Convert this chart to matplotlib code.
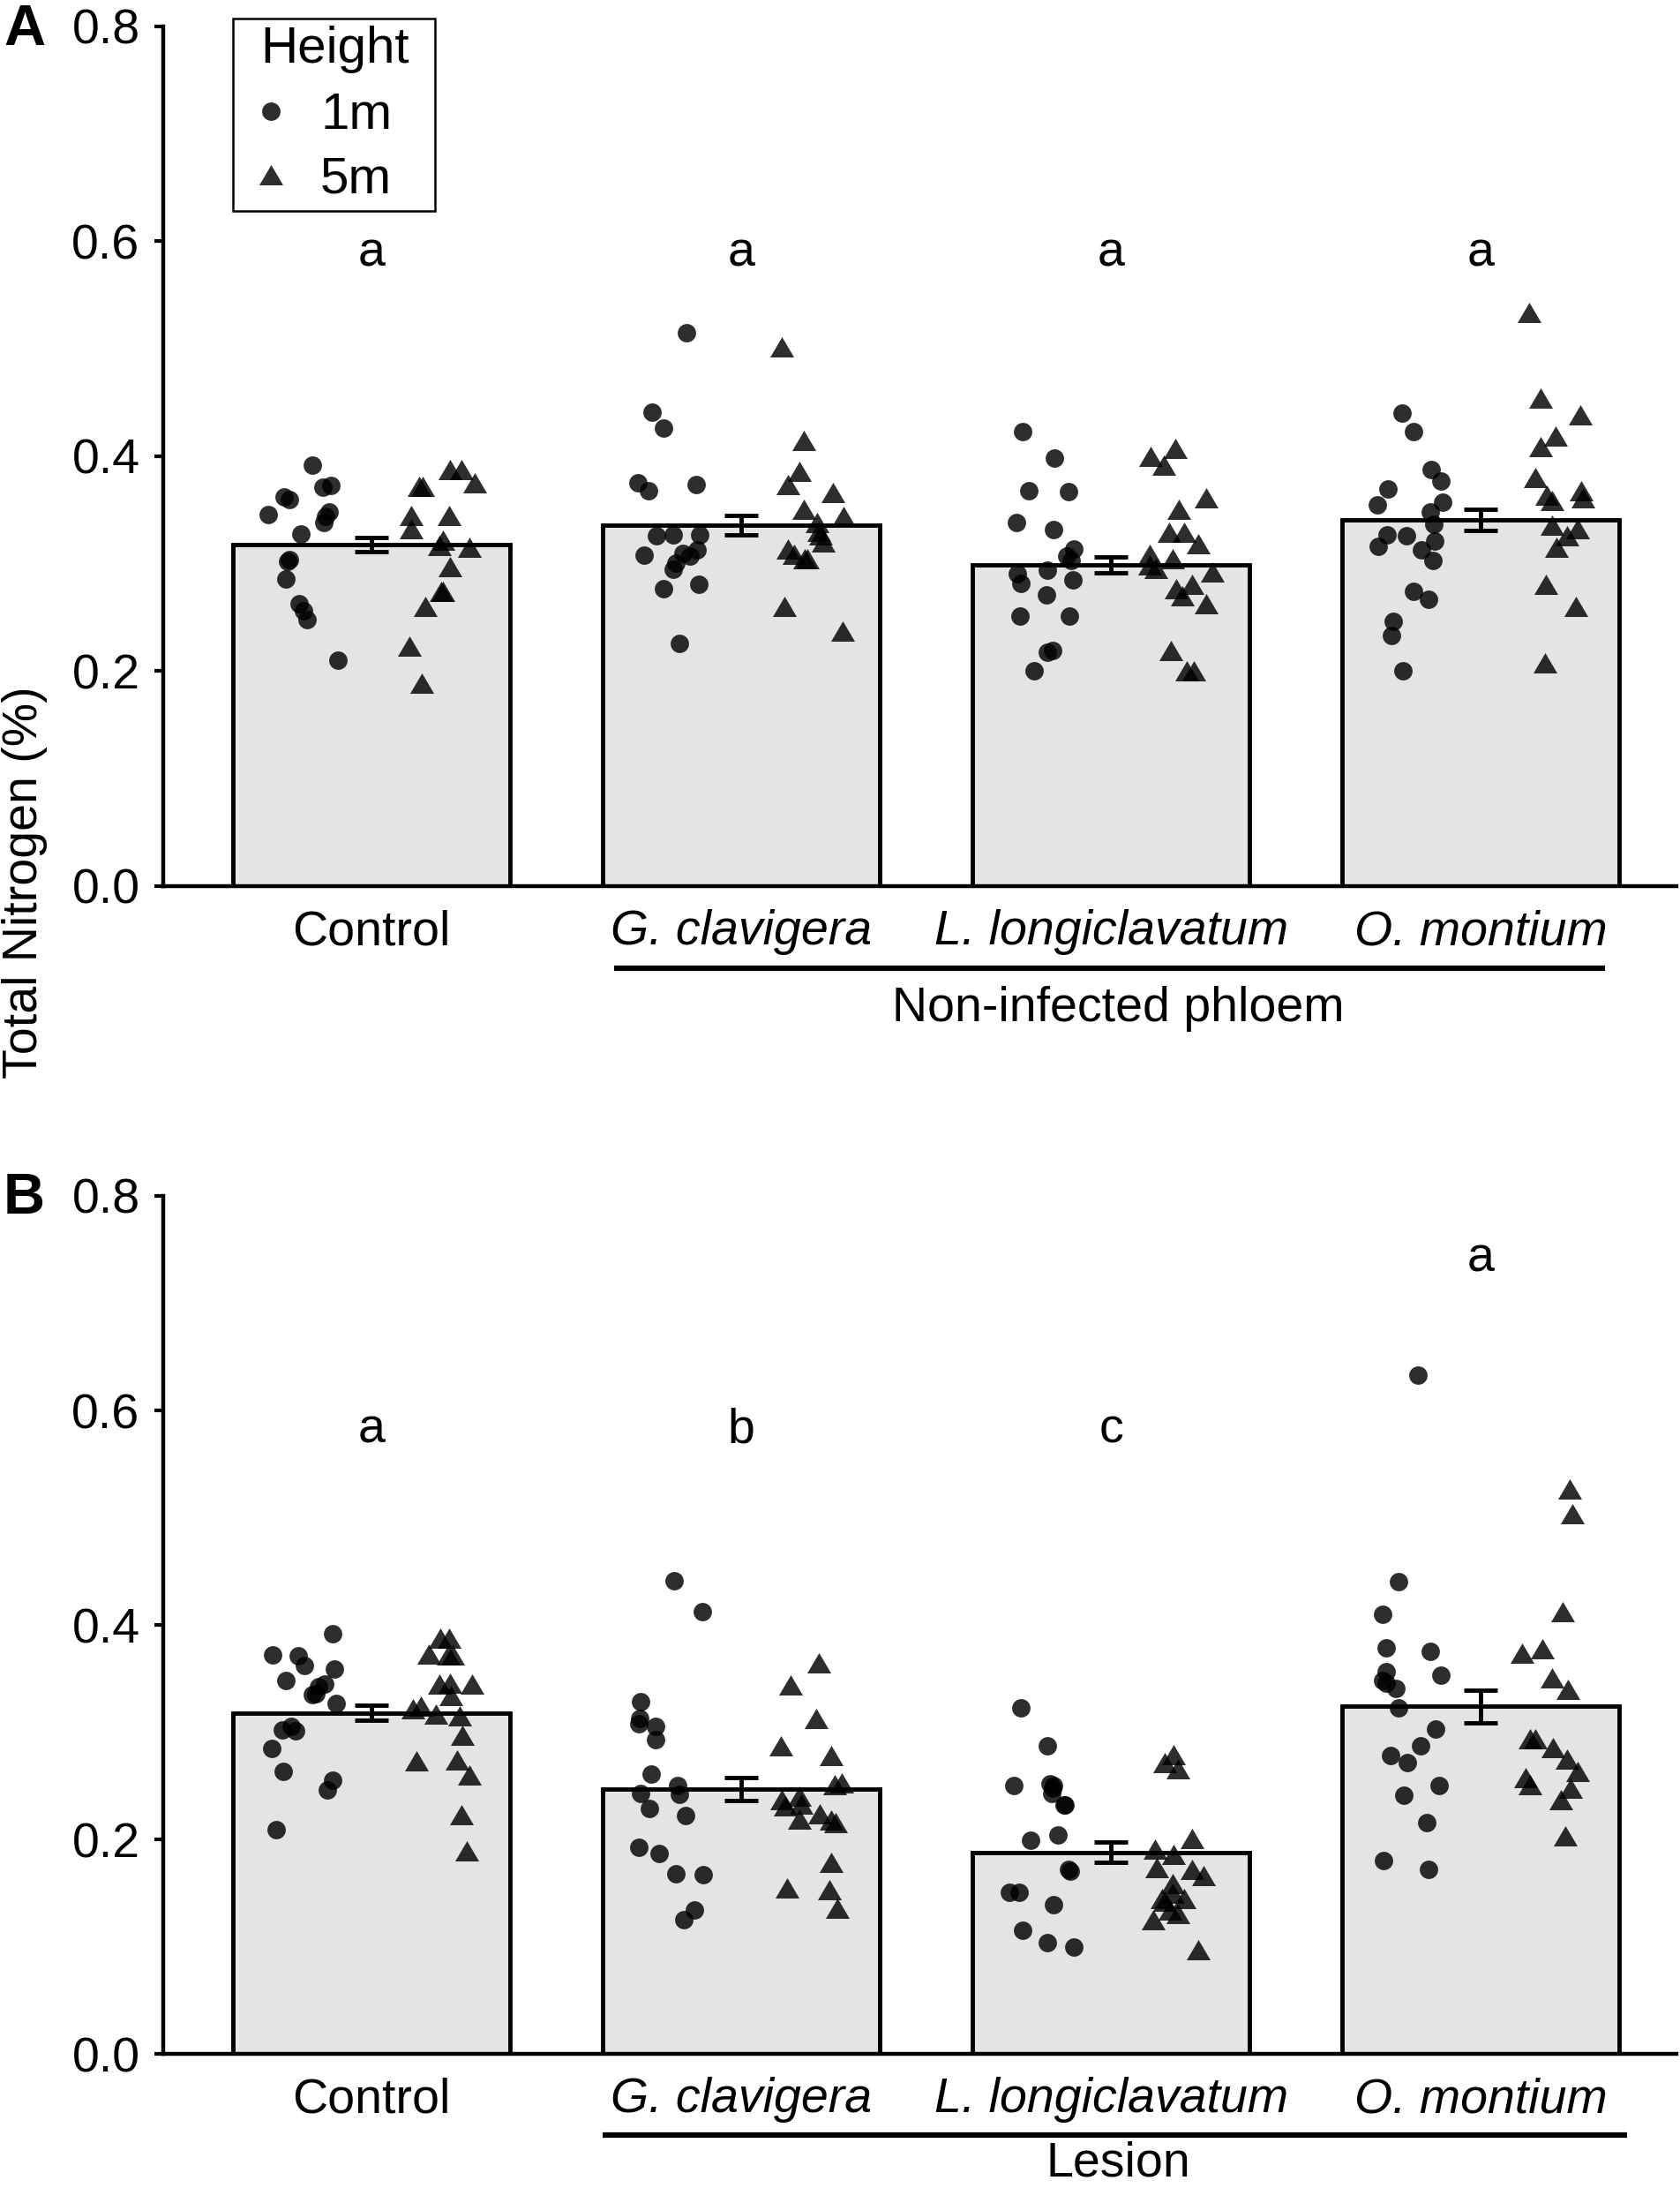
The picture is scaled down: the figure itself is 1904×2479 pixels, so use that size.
import numpy as np
import matplotlib
matplotlib.use("Agg")
import matplotlib.pyplot as plt
from matplotlib.lines import Line2D
from matplotlib.patches import Rectangle

plt.rcParams['font.family'] = ['Liberation Sans', 'DejaVu Sans']

# categories and labels
categories = ['Control', 'G. clavigera', 'L. longiclavatum', 'O. montium']
italic = [False, True, True, True]

# panel A: non-infected phloem, total N (%) per tree
ctrl_A_1m = [0.392, 0.373, 0.371, 0.362, 0.360, 0.348, 0.346, 0.344, 0.338, 0.328, 0.304, 0.302, 0.286, 0.263, 0.256, 0.248, 0.210]
ctrl_A_5m = [0.388, 0.388, 0.375, 0.372, 0.372, 0.345, 0.345, 0.333, 0.322, 0.317, 0.315, 0.297, 0.274, 0.274, 0.260, 0.223, 0.189]
gc_A_1m = [0.515, 0.441, 0.426, 0.375, 0.374, 0.368, 0.326, 0.327, 0.327, 0.313, 0.310, 0.307, 0.308, 0.301, 0.295, 0.281, 0.277, 0.226]
gc_A_5m = [0.502, 0.415, 0.386, 0.374, 0.366, 0.351, 0.344, 0.338, 0.330, 0.327, 0.320, 0.314, 0.305, 0.309, 0.305, 0.260, 0.237]
ll_A_1m = [0.423, 0.398, 0.368, 0.367, 0.332, 0.338, 0.307, 0.314, 0.303, 0.294, 0.291, 0.282, 0.285, 0.271, 0.251, 0.251, 0.219, 0.218, 0.200]
ll_A_5m = [0.407, 0.392, 0.400, 0.361, 0.351, 0.329, 0.329, 0.319, 0.309, 0.305, 0.299, 0.296, 0.292, 0.281, 0.277, 0.270, 0.263, 0.219, 0.200, 0.200]
om_A_1m = [0.440, 0.423, 0.388, 0.377, 0.370, 0.357, 0.355, 0.348, 0.337, 0.327, 0.326, 0.321, 0.316, 0.313, 0.303, 0.274, 0.267, 0.246, 0.233, 0.200]
om_A_5m = [0.534, 0.454, 0.439, 0.419, 0.409, 0.380, 0.368, 0.364, 0.361, 0.359, 0.336, 0.333, 0.326, 0.315, 0.281, 0.260, 0.208]
mean_A = [0.318, 0.336, 0.299, 0.341]
se_A = [0.0065, 0.009, 0.0076, 0.0097]
letters_A = ['a', 'a', 'a', 'a']
letter_y_A = [0.577, 0.577, 0.577, 0.577]

# panel B: lesion
ctrl_B_1m = [0.392, 0.372, 0.371, 0.362, 0.359, 0.348, 0.345, 0.336, 0.342, 0.335, 0.327, 0.305, 0.301, 0.302, 0.285, 0.263, 0.255, 0.246, 0.209]
ctrl_B_5m = [0.388, 0.388, 0.372, 0.372, 0.373, 0.345, 0.345, 0.346, 0.334, 0.324, 0.322, 0.317, 0.315, 0.297, 0.274, 0.273, 0.260, 0.223, 0.189]
gc_B_1m = [0.441, 0.412, 0.328, 0.313, 0.308, 0.305, 0.293, 0.261, 0.250, 0.243, 0.242, 0.229, 0.222, 0.193, 0.187, 0.167, 0.168, 0.134, 0.125]
gc_B_5m = [0.365, 0.344, 0.313, 0.287, 0.278, 0.253, 0.251, 0.237, 0.233, 0.240, 0.231, 0.224, 0.218, 0.219, 0.216, 0.179, 0.155, 0.153, 0.136]
ll_B_1m = [0.323, 0.287, 0.248, 0.252, 0.250, 0.250, 0.243, 0.232, 0.232, 0.199, 0.204, 0.172, 0.170, 0.151, 0.151, 0.139, 0.115, 0.104, 0.100]
ll_B_5m = [0.279, 0.272, 0.266, 0.201, 0.191, 0.186, 0.174, 0.172, 0.166, 0.159, 0.150, 0.145, 0.145, 0.142, 0.134, 0.131, 0.125, 0.097]
om_B_1m = [0.633, 0.440, 0.410, 0.375, 0.379, 0.356, 0.346, 0.348, 0.353, 0.341, 0.323, 0.303, 0.287, 0.278, 0.272, 0.250, 0.241, 0.216, 0.180, 0.172]
om_B_5m = [0.527, 0.504, 0.412, 0.378, 0.374, 0.351, 0.340, 0.294, 0.294, 0.286, 0.275, 0.263, 0.258, 0.251, 0.248, 0.237, 0.203]
mean_B = [0.318, 0.247, 0.188, 0.324]
se_B = [0.0071, 0.011, 0.0092, 0.015]
letters_B = ['a', 'b', 'c', 'a']
letter_y_B = [0.570, 0.570, 0.570, 0.730]

FS = 40
tri = [(-1, -0.85), (1, -0.85), (0, 0.85)]   # wide triangle marker
rng = np.random.default_rng(7)  # only for horizontal jitter

fig = plt.figure(figsize=(19.04, 24.79), dpi=100)
axA = fig.add_axes([0.09716, 0.59500, 0.90080, 0.39290])
axB = fig.add_axes([0.09716, 0.06131, 0.90080, 0.39210])


def draw_panel(ax, pts_1m, pts_5m, means, ses, letters, letter_y):
    x = np.arange(len(categories))
    ax.bar(x, means, width=0.75, color='#e4e4e4', edgecolor='black', linewidth=3.5, zorder=1)
    for i in range(len(categories)):
        y1 = np.array(pts_1m[i])
        y5 = np.array(pts_5m[i])
        x1 = i - 0.185 + rng.uniform(-0.095, 0.095, len(y1))
        x5 = i + 0.19 + rng.uniform(-0.09, 0.09, len(y5))
        ax.scatter(x1, y1, s=225, marker='o', color='black', alpha=0.82, linewidths=0, zorder=2)
        ax.scatter(x5, y5, s=380, marker=tri, color='black', alpha=0.82, linewidths=0, zorder=2)
        ax.text(i, letter_y[i], letters[i], ha='center', va='baseline', fontsize=FS)
    ax.errorbar(x, means, yerr=ses, fmt='none', ecolor='black', elinewidth=3.5,
                capsize=14, capthick=3.5, zorder=3)

    ax.set_xlim(-0.5635, 3.53)
    ax.set_ylim(0, 0.8)
    ax.set_yticks([0.0, 0.2, 0.4, 0.6, 0.8])
    ax.set_yticklabels(['0.0', '0.2', '0.4', '0.6', '0.8'])
    ax.set_xticks(x)
    ax.set_xticklabels(categories)
    for lab, it in zip(ax.get_xticklabels(), italic):
        if it:
            lab.set_fontstyle('italic')
    ax.tick_params(axis='x', length=0, pad=19, labelsize=FS)
    ax.tick_params(axis='y', length=7, width=3, pad=12, labelsize=FS)
    for side in ['top', 'right']:
        ax.spines[side].set_visible(False)
    for side in ['left', 'bottom']:
        ax.spines[side].set_linewidth(3.2)


draw_panel(axA, [ctrl_A_1m, gc_A_1m, ll_A_1m, om_A_1m], [ctrl_A_5m, gc_A_5m, ll_A_5m, om_A_5m],
           mean_A, se_A, letters_A, letter_y_A)
draw_panel(axB, [ctrl_B_1m, gc_B_1m, ll_B_1m, om_B_1m], [ctrl_B_5m, gc_B_5m, ll_B_5m, om_B_5m],
           mean_B, se_B, letters_B, letter_y_B)

# group brackets under the fungal treatments
axA.plot([0.657, 3.336], [-0.0764, -0.0764], color='black', lw=4.5, clip_on=False, solid_capstyle='butt')
axA.text(2.02, -0.1256, 'Non-infected phloem', ha='center', va='baseline', fontsize=FS)
axB.plot([0.626, 3.395], [-0.0757, -0.0757], color='black', lw=4.5, clip_on=False, solid_capstyle='butt')
axB.text(2.02, -0.1140, 'Lesion', ha='center', va='baseline', fontsize=FS)

# legend: entries from the library, title and box placed as in the reference
LFS = 42
handles = [Line2D([], [], ls='none', marker='o', markersize=15, color='black', alpha=0.82, mew=0),
           Line2D([], [], ls='none', marker=tri, markersize=19.5, color='black', alpha=0.82, mew=0)]
leg = axA.legend(handles, ['1m', '5m'], loc='upper left',
                 bbox_to_anchor=(271 / 1904, 1 - 104 / 2479), bbox_transform=fig.transFigure,
                 frameon=False, fontsize=LFS, borderpad=0, borderaxespad=0,
                 handlelength=1.25, handletextpad=0.33, labelspacing=0.31)
fig.text(380 / 1904, 1 - 71 / 2479, 'Height', ha='center', va='baseline', fontsize=LFS)
fig.patches.append(Rectangle((264 / 1904, 1 - 239 / 2479), 229 / 1904, 218 / 2479,
                             transform=fig.transFigure, fill=False, edgecolor='black', lw=1.8))

fig.text(28 / 1904, 1 - 1000 / 2479, 'Total Nitrogen (%)', rotation=90, ha='center', va='center', fontsize=FS)
fig.text(4 / 1904, 1 - 4 / 2479, 'A', ha='left', va='top', fontsize=47, fontweight='bold')
fig.text(4 / 1904, 1 - 1328 / 2479, 'B', ha='left', va='top', fontsize=47, fontweight='bold')

fig.savefig('out.png', dpi=100)
